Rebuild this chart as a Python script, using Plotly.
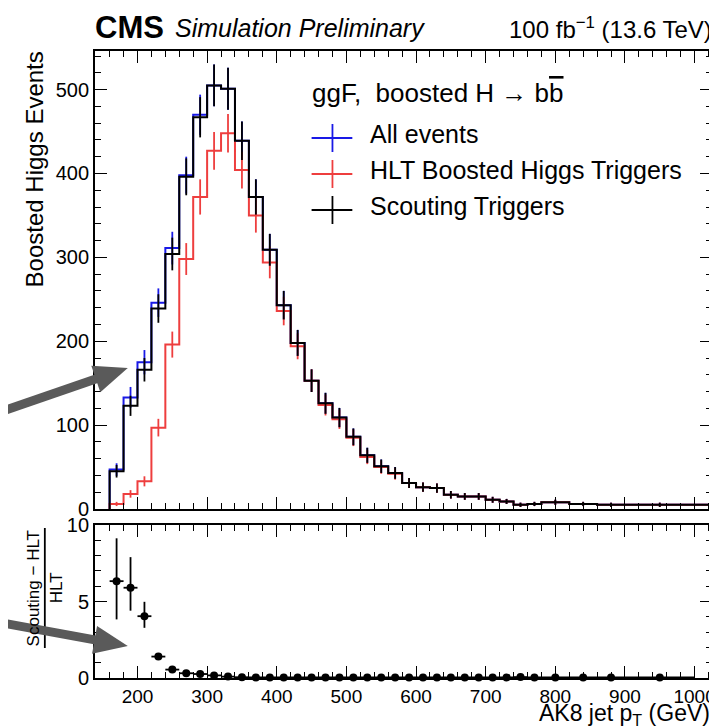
import plotly.graph_objects as go

# ---------------- data ----------------
EDGES = [160, 180, 200, 220, 240, 260, 280, 300, 320, 340, 360, 380, 400, 420, 440,
         460, 480, 500, 520, 540, 560, 580, 600, 620, 640, 660, 680, 700, 720, 740,
         760, 780, 820, 860, 900, 1025]
CENTERS = [170, 190, 210, 230, 250, 270, 290, 310, 330, 350, 370, 390, 410, 430, 450,
           470, 490, 510, 530, 550, 570, 590, 610, 630, 650, 670, 690, 710, 730, 750,
           770, 800, 840, 880, 950]
HALF_WIDTH = [10, 10, 10, 10, 10, 10, 10, 10, 10, 10, 10, 10, 10, 10, 10,
              10, 10, 10, 10, 10, 10, 10, 10, 10, 10, 10, 10, 10, 10, 10,
              10, 20, 20, 20, 50]

ALL_EVENTS = [47, 133, 175, 246, 311, 398, 470, 505, 501, 439, 372, 309, 243, 198, 153,
              126, 109, 86, 64, 51, 43, 31, 26, 25, 17, 15, 15, 11, 9, 5,
              6, 8, 6, 5, 5]
ALL_ERR = [7.5, 12.5, 14.5, 17, 19.5, 22, 24, 25, 25, 23, 21, 19, 17, 15.5, 13.5,
           12.5, 11.5, 10, 9, 8, 7, 6, 5.5, 5.5, 4.5, 4, 4, 3.5, 3, 2.5,
           2.5, 3, 2.5, 2.5, 2.5]

HLT = [6, 18, 33, 97, 196, 298, 372, 427, 448, 404, 350, 294, 236, 194, 153,
       124, 107, 85, 62, 50, 42, 31, 26, 25, 17, 15, 15, 11, 9, 5,
       6, 8, 6, 5, 5]
HLT_ERR = [2.5, 4.5, 6, 10.5, 15.5, 19, 21, 22.5, 23, 22, 20.5, 19, 17, 15.5, 13.5,
           12.5, 11.5, 10, 8.5, 8, 7, 6, 5.5, 5.5, 4.5, 4, 4, 3.5, 3, 2.5,
           2.5, 3, 2.5, 2.5, 2.5]

SCOUTING = [45, 123, 166, 239, 304, 396, 467, 505, 501, 439, 372, 309, 243, 198, 153,
            126, 109, 86, 64, 51, 43, 31, 26, 25, 17, 15, 15, 11, 9, 5,
            6, 8, 6, 5, 5]
SCOUTING_ERR = [7.5, 12, 14, 17, 19.5, 22, 24, 25, 25, 23, 21, 19, 17, 15.5, 13.5,
                12.5, 11.5, 10, 9, 8, 7, 6, 5.5, 5.5, 4.5, 4, 4, 3.5, 3, 2.5,
                2.5, 3, 2.5, 2.5, 2.5]

RATIO = [6.33, 5.9, 4.04, 1.4, 0.55, 0.31, 0.26, 0.17, 0.09, 0.05, 0.04, 0.04, 0.04, 0.04, 0.04,
         0.04, 0.04, 0.04, 0.04, 0.04, 0.04, 0.04, 0.04, 0.04, 0.04, 0.04, 0.04, 0.04, 0.04, 0.06,
         0.04, 0.04, 0.04, 0.04, 0.04]
RATIO_ERR_UP = [2.8, 2.0, 0.94, 0.2, 0.08, 0.05, 0.04, 0.03, 0.03, 0.02, 0.02, 0.02, 0.02, 0.02, 0.02,
                0.02, 0.02, 0.02, 0.02, 0.02, 0.02, 0.02, 0.02, 0.02, 0.02, 0.02, 0.02, 0.02, 0.02, 0.02,
                0.02, 0.02, 0.02, 0.02, 0.02]
RATIO_ERR_DN = [2.5, 1.5, 0.76, 0.2, 0.08, 0.05, 0.04, 0.03, 0.03, 0.02, 0.02, 0.02, 0.02, 0.02, 0.02,
                0.02, 0.02, 0.02, 0.02, 0.02, 0.02, 0.02, 0.02, 0.02, 0.02, 0.02, 0.02, 0.02, 0.02, 0.02,
                0.02, 0.02, 0.02, 0.02, 0.02]

X_TICKS = [200, 300, 400, 500, 600, 700, 800, 900, 1000]
Y_TICKS = [0, 100, 200, 300, 400, 500]
R_TICKS = [0, 5, 10]

SERIES_NAMES = ["All events", "HLT Boosted Higgs Triggers", "Scouting Triggers"]
BLUE = "rgb(25,25,230)"
RED = "rgb(238,62,62)"
BLACK = "rgb(0,0,0)"
ARROW = "rgb(90,90,90)"
FONT = "Liberation Sans, Arial, Helvetica, sans-serif"

# ---------------- layout geometry (pixels) ----------------
W, H = 717, 728
L, R, T, B = 87, 708, 43, 670          # plot-area box in pixels
MAIN_BOTTOM, RATIO_TOP = 501, 517


def px(x):
    return (x - L) / (R - L)


def py(y):
    return (B - y) / (B - T)


fig = go.Figure()


def add_hist(values, errors, color, name):
    xs = [EDGES[0]] + EDGES
    ys = [0] + values + [values[-1]]
    fig.add_trace(go.Scatter(x=xs, y=ys, mode="lines", line=dict(color=color, width=2, shape="hv"),
                             name=name, showlegend=False, xaxis="x", yaxis="y", hoverinfo="skip"))
    fig.add_trace(go.Scatter(x=CENTERS, y=values, mode="markers", marker=dict(color=color, size=1),
                             error_y=dict(type="data", array=errors, color=color, thickness=1.8, width=0),
                             showlegend=False, xaxis="x", yaxis="y", name=name))


add_hist(ALL_EVENTS, ALL_ERR, BLUE, SERIES_NAMES[0])
add_hist(HLT, HLT_ERR, RED, SERIES_NAMES[1])
add_hist(SCOUTING, SCOUTING_ERR, BLACK, SERIES_NAMES[2])

fig.add_trace(go.Scatter(x=CENTERS, y=RATIO, mode="markers",
                         marker=dict(color="black", size=8),
                         error_y=dict(type="data", symmetric=False, array=RATIO_ERR_UP,
                                      arrayminus=RATIO_ERR_DN, color="black", thickness=1.8, width=0),
                         error_x=dict(type="data", array=HALF_WIDTH, color="black", thickness=1.8, width=0),
                         showlegend=False, xaxis="x2", yaxis="y2", cliponaxis=False))

axis_common = dict(showline=True, linecolor="black", linewidth=1.8, mirror="allticks",
                   ticks="inside", tickcolor="black", tickwidth=1.3, showgrid=False, zeroline=False,
                   tickfont=dict(family=FONT, size=20, color="black"))
minor_x = dict(ticks="inside", dtick=20, ticklen=6, tickcolor="black", tickwidth=1.2)

main_dom = [py(MAIN_BOTTOM), 1.0]
ratio_dom = [0.0, py(RATIO_TOP)]

fig.update_layout(
    width=W, height=H,
    margin=dict(l=L, r=W - R, t=T, b=H - B, pad=0),
    paper_bgcolor="white", plot_bgcolor="white",
    showlegend=False,
    font=dict(family=FONT, color="black"),
    xaxis=dict(domain=[0, 1], range=[139, 1025], anchor="y", tickvals=X_TICKS,
               showticklabels=False, ticklen=12, minor=minor_x, **axis_common),
    yaxis=dict(domain=main_dom, range=[0, 546], anchor="x", tickvals=Y_TICKS, ticklen=12,
               minor=dict(ticks="inside", dtick=20, ticklen=6, tickcolor="black", tickwidth=1.2),
               **axis_common),
    xaxis2=dict(domain=[0, 1], range=[139, 1025], anchor="y2", tickvals=X_TICKS, ticklen=12,
                minor=minor_x, **axis_common),
    yaxis2=dict(domain=ratio_dom, range=[0, 10], anchor="x2", tickvals=R_TICKS, ticklen=12,
                minor=dict(ticks="inside", dtick=1, ticklen=6, tickcolor="black", tickwidth=1.2),
                **axis_common),
)
fig.update_xaxes(tickfont=dict(family=FONT, size=19, color="black"), selector=dict(anchor="y2"))

ann = []


def text(x, y, s, size, xanchor="left", yanchor="middle", angle=0):
    ann.append(dict(x=px(x), y=py(y), xref="paper", yref="paper", xanchor=xanchor, yanchor=yanchor,
                    text=s, textangle=angle, showarrow=False, font=dict(family=FONT, size=size, color="black"),
                    borderpad=0))


# header
text(86, 19, "<b>CMS</b>", 31)
text(167, 20, "<i>Simulation Preliminary</i>", 25)
text(709, 20, "100 fb<sup>−1</sup> (13.6 TeV)", 24, xanchor="right")
# axis titles
text(27, 42, "Boosted Higgs Events", 24, xanchor="center", yanchor="top", angle=-90)
text(707, 707, "AK8 jet p<sub>T</sub> (GeV)", 23, xanchor="right")
text(25, 580, "Scouting − HLT", 17, xanchor="center", angle=-90)
text(48, 580, "HLT", 17, xanchor="center", angle=-90)
# legend
text(304, 85, "ggF,  boosted H → b<span style='text-decoration:overline'>b</span>", 26)
LEG_TEXT_Y = [126, 162, 198]
LEG_MARK_Y = [130, 166, 202]
LEG_C = [BLUE, RED, BLACK]
shapes = []
for name, ty, my, cc in zip(SERIES_NAMES, LEG_TEXT_Y, LEG_MARK_Y, LEG_C):
    text(363, ty, name, 25)
    shapes.append(dict(type="line", xref="paper", yref="paper", x0=px(305), x1=px(346), y0=py(my), y1=py(my),
                       line=dict(color=cc, width=1.8)))
    shapes.append(dict(type="line", xref="paper", yref="paper", x0=px(326), x1=px(326),
                       y0=py(my - 14), y1=py(my + 14), line=dict(color=cc, width=1.8)))

# fraction bar of ratio title
shapes.append(dict(type="line", xref="paper", yref="paper", x0=px(36.5), x1=px(36.5), y0=py(520), y1=py(640),
                   line=dict(color="black", width=1.8)))


# grey annotation arrows
def arrow(x0, y0, x1, y1, head_len=34, half_w=14, lw=9):
    dx, dy = x1 - x0, y1 - y0
    n = (dx * dx + dy * dy) ** 0.5
    ux, uy = dx / n, dy / n
    bx, by = x1 - head_len * ux, y1 - head_len * uy
    nx, ny = -uy, ux
    shapes.append(dict(type="line", xref="paper", yref="paper", x0=px(x0), y0=py(y0),
                       x1=px(bx + 3 * ux), y1=py(by + 3 * uy), line=dict(color=ARROW, width=lw)))
    c1 = (bx + half_w * nx, by + half_w * ny)
    c2 = (bx - half_w * nx, by - half_w * ny)
    path = "M {} {} L {} {} L {} {} Z".format(px(x1), py(y1), px(c1[0]), py(c1[1]), px(c2[0]), py(c2[1]))
    shapes.append(dict(type="path", xref="paper", yref="paper", path=path,
                       fillcolor=ARROW, line=dict(color=ARROW, width=0)))


arrow(-6, 403, 120, 360)
arrow(-6, 615, 120, 638)

fig.update_layout(annotations=ann, shapes=shapes)
fig.write_html("out.html")
